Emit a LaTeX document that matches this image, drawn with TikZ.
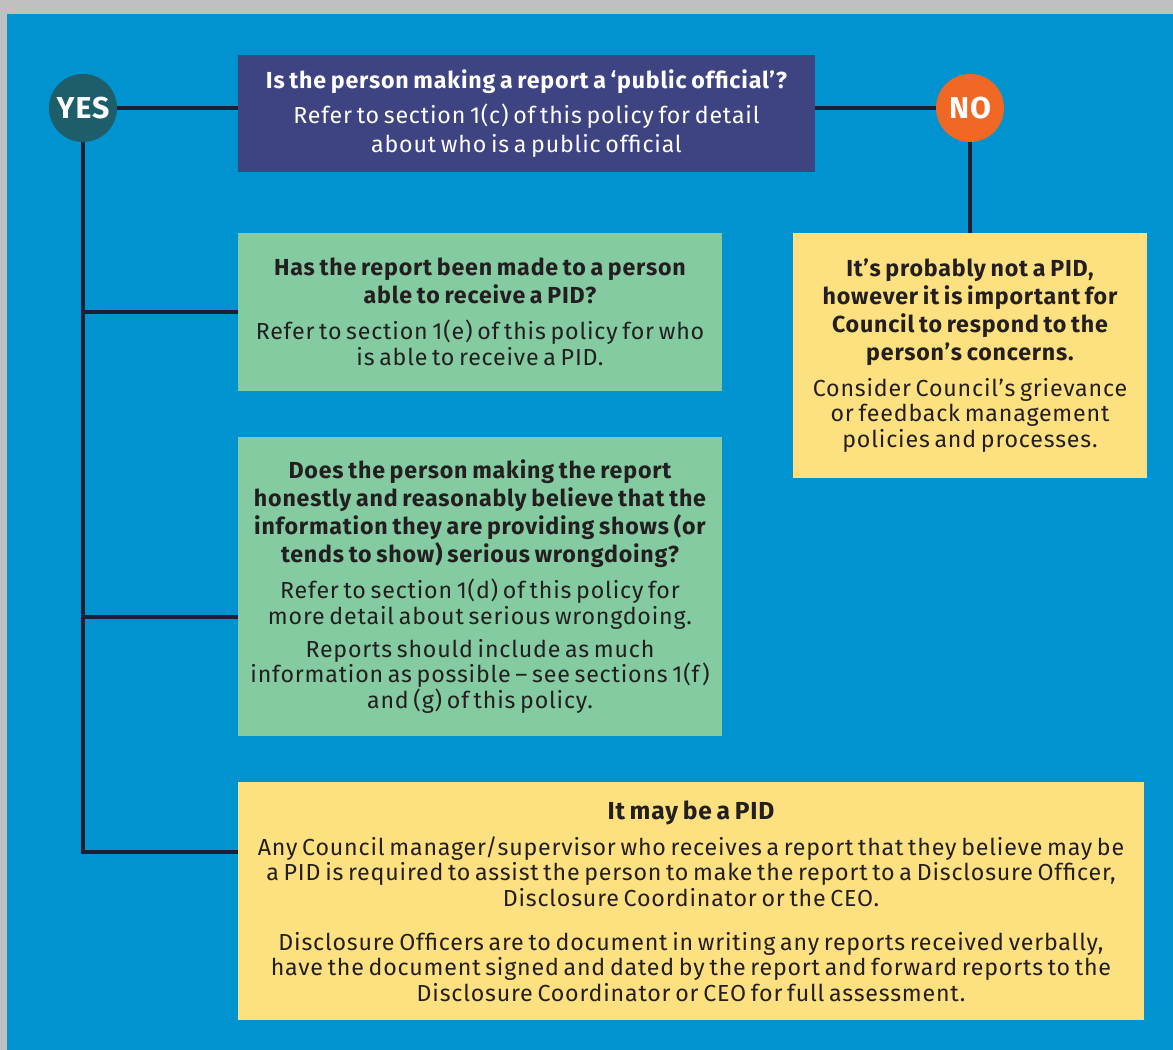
\documentclass[tikz,border=0pt]{standalone}
\usepackage{fontspec}
\setmainfont{Fira Sans}[LetterSpace=3.5]
\definecolor{corMoldura}{RGB}{192, 192, 192}
\definecolor{corFundo}{RGB}{  0, 147, 208}
\definecolor{corTopo}{RGB}{ 62,  67, 130}
\definecolor{corVerde}{RGB}{132, 203, 161}
\definecolor{corAmarelo}{RGB}{253, 224, 127}
\definecolor{corSim}{RGB}{ 30,  94, 106}
\definecolor{corNao}{RGB}{241, 103,  36}
\definecolor{corLinha}{RGB}{ 27,  32,  50}
\definecolor{corTexto}{RGB}{ 35,  31,  32}

% titulo em negrito e paragrafo normal dentro das caixas
\newcommand{\titulo}[2][16.5]{{\bfseries\fontsize{#1}{19.9}\selectfont #2\par}}
\newcommand{\texto}[2][18.1]{{\fontsize{16.5}{#1}\selectfont #2\par}}

\tikzset{
  caixa/.style={rectangle, inner sep=0pt, align=center, text=corTexto},
  circulo/.style={circle, minimum size=1.7cm, inner sep=0pt, text=white,
                  font=\fontsize{21.5}{21.5}\selectfont\bfseries},
  linha/.style={draw=corLinha, line width=2.3pt}
}

\begin{document}
\begin{tikzpicture}

  %% ================================================================
  %%  FUNDO
  %% ================================================================
  \fill[corMoldura] (0, 0) rectangle (29.325, 26.25);
  \fill[corFundo]   (0.175, 0) rectangle (29.325, 25.9);

  %% ================================================================
  %%  PERGUNTA INICIAL E CIRCULOS SIM / NAO
  %% ================================================================
  \node[caixa, fill=corTopo, text=white, minimum width=14.425cm,
        minimum height=2.925cm, text width=14.3cm]
        (topo) at (13.1625, 23.4125) {%
    \titulo{Is the person making a report a ‘public official’?}
    \vspace{4.3pt}
    \texto[20.6]{Refer to section 1(c) of this policy for detail\\
                 about who is a public official}};

  \node[circulo, fill=corSim] (sim) at (2.075, 23.55) {YES};
  \node[circulo, fill=corNao] (nao) at (24.25, 23.55) {NO};

  %% ================================================================
  %%  CAIXAS DO RAMO "YES"
  %% ================================================================
  \node[caixa, fill=corVerde, minimum width=12.1cm,
        minimum height=3.95cm, text width=12cm]
        (verde1) at (12.0, 18.45) {%
    \titulo{Has the report been made to a person\\ able to receive a PID?}
    \vspace{7.5pt}
    \texto{Refer to section 1(e) of this policy for who\\
           is able to receive a PID.}};

  \node[caixa, fill=corVerde, minimum width=12.1cm,
        minimum height=7.475cm, text width=12cm]
        (verde2) at (12.0, 11.5875) {%
    \titulo{Does the person making the report\\
            honestly and reasonably believe that the\\
            information they are providing shows (or\\
            tends to show) serious wrongdoing?}
    \vspace{7.5pt}
    \texto{Refer to section 1(d) of this policy for\\
           more detail about serious wrongdoing.}
    \vspace{5.4pt}
    \texto{Reports should include as much\\
           information as possible – see sections 1(f)\\
           and (g) of this policy.}};

  \node[caixa, fill=corAmarelo, minimum width=22.65cm,
        minimum height=5.95cm, text width=22.6cm]
        (amarelo2) at (17.275, 3.725) {%
    \titulo[17.5]{It may be a PID}
    \vspace{7.5pt}
    \texto{Any Council manager/supervisor who receives a report that they believe may be\\
           a PID is required to assist the person to make the report to a Disclosure Officer,\\
           Disclosure Coordinator or the CEO.}
    \vspace{13.2pt}
    \texto{Disclosure Officers are to document in writing any reports received verbally,\\
           have the document signed and dated by the report and forward reports to the\\
           Disclosure Coordinator or CEO for full assessment.}};

  %% ================================================================
  %%  CAIXA DO RAMO "NO"
  %% ================================================================
  \node[caixa, fill=corAmarelo, minimum width=8.85cm,
        minimum height=6.125cm, text width=8.8cm]
        (amarelo1) at (24.25, 17.3625) {%
    \titulo{It’s probably not a PID,\\
            however it is important for\\
            Council to respond to the\\
            person’s concerns.}
    \vspace{7.5pt}
    \texto{Consider Council’s grievance\\
           or feedback management\\
           policies and processes.}};

  %% ================================================================
  %%  LIGACOES
  %% ================================================================
  % pontos onde os ramos saem do tronco vertical
  \coordinate (ramoVerde2)   at ([yshift=-0.7625cm]verde2.west);
  \coordinate (ramoAmarelo2) at ([yshift=1.225cm]amarelo2.west);

  \draw[linha] (sim.east) -- (sim.east -| topo.west);
  \draw[linha] (sim.south) |- (ramoAmarelo2);
  \draw[linha] (sim.south |- verde1.west) -- (verde1.west);
  \draw[linha] (sim.south |- ramoVerde2) -- (ramoVerde2);

  \draw[linha] (topo.east |- nao) -- (nao.west);
  \draw[linha] (nao.south) -- (amarelo1.north);

\end{tikzpicture}
\end{document}
